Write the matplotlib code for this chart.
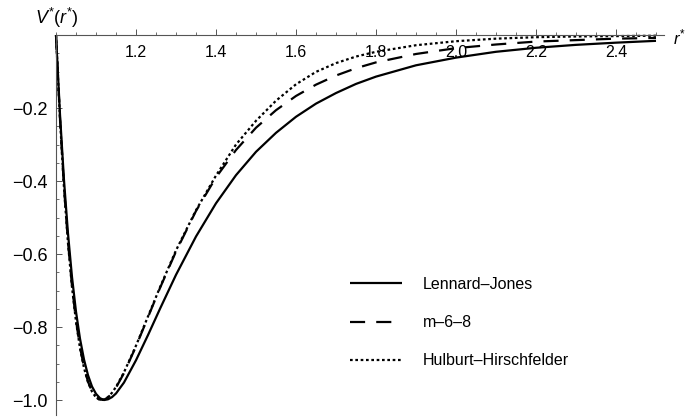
import matplotlib
matplotlib.use("Agg")
import matplotlib.pyplot as plt
from matplotlib.ticker import MultipleLocator

plt.rcParams['font.family'] = ['Liberation Sans', 'DejaVu Sans']
plt.rcParams['mathtext.fontset'] = 'custom'
plt.rcParams['mathtext.rm'] = 'Liberation Sans'
plt.rcParams['mathtext.it'] = 'Liberation Sans:italic'

# ---- data ----
r = [1.00, 1.01, 1.02, 1.03, 1.04, 1.05, 1.06, 1.07, 1.08, 1.09, 1.10, 1.11,
     1.12, 1.13, 1.14, 1.15, 1.17, 1.20, 1.23, 1.26, 1.30, 1.35, 1.40, 1.45,
     1.50, 1.55, 1.60, 1.65, 1.70, 1.75, 1.80, 1.90, 2.00, 2.10, 2.20, 2.30,
     2.40, 2.50]
lennard_jones = [0.000, -0.218, -0.398, -0.544, -0.663, -0.758, -0.832, -0.889,
                 -0.932, -0.963, -0.983, -0.995, -1.000, -0.998, -0.992, -0.982,
                 -0.952, -0.891, -0.822, -0.750, -0.657, -0.552, -0.461, -0.384,
                 -0.320, -0.268, -0.224, -0.188, -0.159, -0.134, -0.114, -0.083,
                 -0.062, -0.046, -0.035, -0.027, -0.021, -0.016]
m_6_8 = [0.000, -0.230, -0.417, -0.567, -0.688, -0.782, -0.855, -0.910,
         -0.950, -0.976, -0.992, -0.999, -0.999, -0.993, -0.981, -0.966,
         -0.926, -0.853, -0.773, -0.693, -0.593, -0.482, -0.390, -0.315,
         -0.254, -0.206, -0.167, -0.136, -0.111, -0.091, -0.075, -0.052,
         -0.036, -0.026, -0.018, -0.014, -0.010, -0.008]
hulburt_hirschfelder = [0.000, -0.232, -0.420, -0.571, -0.691, -0.785, -0.858, -0.912,
                        -0.951, -0.977, -0.993, -1.000, -0.999, -0.992, -0.980, -0.964,
                        -0.924, -0.851, -0.771, -0.691, -0.590, -0.480, -0.385, -0.300,
                        -0.235, -0.180, -0.135, -0.101, -0.077, -0.059, -0.046, -0.028,
                        -0.017, -0.010, -0.006, -0.004, -0.003, -0.002]
series_labels = ["Lennard\u2013Jones", "m\u20136\u20138", "Hulburt\u2013Hirschfelder"]
x_ticks = [1.2, 1.4, 1.6, 1.8, 2.0, 2.2, 2.4]
x_tick_labels = ["1.2", "1.4", "1.6", "1.8", "2.0", "2.2", "2.4"]
y_ticks = [-1.0, -0.8, -0.6, -0.4, -0.2]
y_tick_labels = ["\u22121.0", "\u22120.8", "\u22120.6", "\u22120.4", "\u22120.2"]

# ---- figure ----
fig = plt.figure(figsize=(6.85, 4.2), dpi=100)
ax = fig.add_axes([56 / 685, 5 / 420, 608 / 685, 380 / 420])
ax.set_xlim(1.0, 2.52)
ax.set_ylim(-1.041, 0.0)

lw = 1.6
ax.plot(r, lennard_jones, color='black', lw=lw, solid_capstyle='butt',
        label=series_labels[0], clip_on=False)
ax.plot(r, m_6_8, color='black', lw=lw, dashes=(6.8, 5.0), dash_capstyle='butt',
        label=series_labels[1], clip_on=False)
ax.plot(r, hulburt_hirschfelder, color='black', lw=lw, dashes=(1.2, 1.2),
        dash_capstyle='butt', label=series_labels[2], clip_on=False)

# axes styling (Mathematica-like crossing axes)
for s in ['top', 'right']:
    ax.spines[s].set_visible(False)
ax.spines['bottom'].set_position(('data', 0.0))
ax.spines['left'].set_position(('data', 1.0))
for s in ['bottom', 'left']:
    ax.spines[s].set_linewidth(0.8)
    ax.spines[s].set_color('#555555')

ax.set_xticks(x_ticks)
ax.set_xticklabels(x_tick_labels, fontsize=11.5)
ax.set_yticks(y_ticks)
ax.set_yticklabels(y_tick_labels, fontsize=13)
ax.xaxis.set_minor_locator(MultipleLocator(0.05))
ax.yaxis.set_minor_locator(MultipleLocator(0.05))
ax.tick_params(axis='both', which='major', direction='in', length=4, width=0.7,
               color='#555555')
ax.tick_params(axis='both', which='minor', direction='in', length=2.5, width=0.6,
               color='#555555')
ax.tick_params(axis='x', which='major', pad=7)
ax.tick_params(axis='y', which='major', pad=6)

fig.text(35 / 685, 1 - 18 / 420, r'$V^{*}(r^{*})$', fontsize=13, va='center', ha='left')
fig.text(673 / 685, 1 - 37 / 420, r'$r^{*}$', fontsize=12, va='center', ha='left')

leg = ax.legend(loc='upper left', bbox_to_anchor=(350 / 685, 1 - 277 / 420),
                bbox_transform=fig.transFigure, frameon=False, fontsize=11.5,
                handlelength=3.25, handletextpad=1.3, labelspacing=1.45,
                borderpad=0, borderaxespad=0)

fig.savefig('out.png', dpi=100)
